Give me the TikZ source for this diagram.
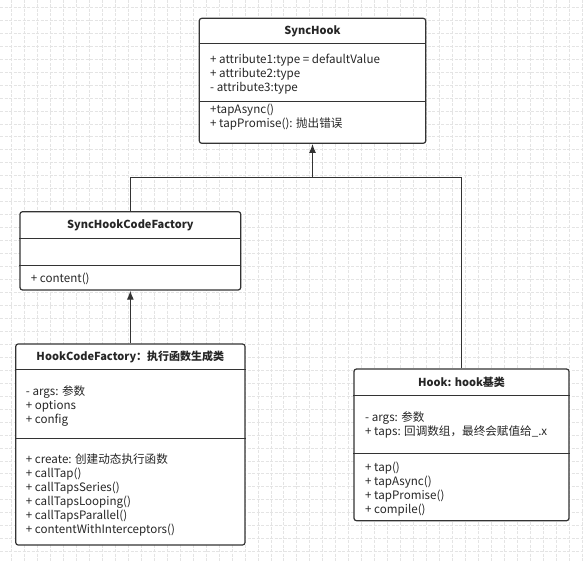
\documentclass[tikz,border=0pt]{standalone}
\usepackage{fontspec}
\setmainfont{Noto Sans CJK SC}
\usetikzlibrary{positioning,arrows.meta}

\definecolor{umlline}{HTML}{333333}
\definecolor{gridgray}{HTML}{E4E4E4}

\tikzset{
  classbox/.style={draw=umlline, line width=1.2pt, rounded corners=2.5pt, fill=white, inner sep=0pt},
  classtitle/.style={font=\bfseries\fontsize{11}{13}\selectfont, text=black!85, inner sep=0pt},
  members/.style={align=left, anchor=north west, font=\fontsize{11.6}{14}\selectfont, text=black!85, inner sep=0pt},
  divider/.style={draw=umlline, line width=1.2pt},
  inherit/.style={draw=umlline, line width=1.2pt, -{Latex[length=9pt,width=7pt]}},
  gridline/.style={draw=gridgray, line width=0.8pt, dash pattern=on 3pt off 1.5pt}
}

\begin{document}
\begin{tikzpicture}[x=1pt, y=1pt]
			\useasboundingbox (0,0) rectangle (583,-561);
			\fill[white] (0,0) rectangle (583,-561);
			
			% background grid
			\foreach \gx in {0,...,44}
				\draw[gridline] (11.7+12.96*\gx,0) -- (11.7+12.96*\gx,-561);
			\foreach \gy in {0,...,43}
				\draw[gridline] (0,-7.3-12.96*\gy) -- (583,-7.3-12.96*\gy);
			
			% SyncHook
			\node[classbox, minimum width=226.4pt, minimum height=125pt] (syncHook) at (312.5,-80.8) {};
			\node[classtitle] (syncHookTitle) at (312.5,-31.7) {SyncHook};
			\draw[divider] (syncHook.west |- 0,-43.3) -- (syncHook.east |- 0,-43.3);
			\draw[divider] (syncHook.west |- 0,-101.7) -- (syncHook.east |- 0,-101.7);
			\node[members] (syncHookAttrs) at (210,-53.8) {+ attribute1:type = defaultValue\\+ attribute2:type\\- attribute3:type};
			\node[members] (syncHookOps) at (210,-104) {+tapAsync()\\+ tapPromise(): 抛出错误};
			
			% SyncHookCodeFactory
			\node[classbox, minimum width=220.7pt, minimum height=78.3pt] (syncCodeFactory) at (130.35,-250.85) {};
			\node[classtitle] (syncCodeFactoryTitle) at (130.35,-225.7) {SyncHookCodeFactory};
			\draw[divider] (syncCodeFactory.west |- 0,-238.3) -- (syncCodeFactory.east |- 0,-238.3);
			\draw[divider] (syncCodeFactory.west |- 0,-265.7) -- (syncCodeFactory.east |- 0,-265.7);
			\node[members] (syncCodeFactoryOps) at (30.7,-273) {+ content()};
			
			% HookCodeFactory
			\node[classbox, minimum width=229.3pt, minimum height=201pt] (hookCodeFactory) at (130.35,-444.5) {};
			\node[classtitle] (hookCodeFactoryTitle) at (130.35,-356.7) {HookCodeFactory：执行函数生成类};
			\draw[divider] (hookCodeFactory.west |- 0,-369.3) -- (hookCodeFactory.east |- 0,-369.3);
			\draw[divider] (hookCodeFactory.west |- 0,-438.7) -- (hookCodeFactory.east |- 0,-438.7);
			\node[members] (hookCodeFactoryAttrs) at (25.7,-385.5) {- args: 参数\\+ options\\+ config};
			\node[members] (hookCodeFactoryOps) at (25.7,-454) {+ create: 创建动态执行函数\\+ callTap()\\+ callTapsSeries()\\+ callTapsLooping()\\+ callTapsParallel()\\+ contentWithInterceptors()};
			
			% Hook
			\node[classbox, minimum width=215pt, minimum height=151.7pt] (hook) at (461.5,-444.85) {};
			\node[classtitle] (hookTitle) at (461.5,-382.3) {Hook: hook基类};
			\draw[divider] (hook.west |- 0,-395.7) -- (hook.east |- 0,-395.7);
			\draw[divider] (hook.west |- 0,-453.3) -- (hook.east |- 0,-453.3);
			\node[members] (hookAttrs) at (365,-411.5) {- args: 参数\\+ taps: 回调数组，最终会赋值给\_.x};
			\node[members] (hookOps) at (365,-461.5) {+ tap()\\+ tapAsync()\\+ tapPromise()\\+ compile()};
			
			% inheritance
			\coordinate (junction) at (312.5,-177.3);
			\draw[inherit] (syncCodeFactory.north) |- (junction) -- (syncHook.south);
			\draw[divider] (hook.north) |- (junction);
			\draw[inherit] (hookCodeFactory.north) -- (syncCodeFactory.south);
		\end{tikzpicture}
\end{document}
